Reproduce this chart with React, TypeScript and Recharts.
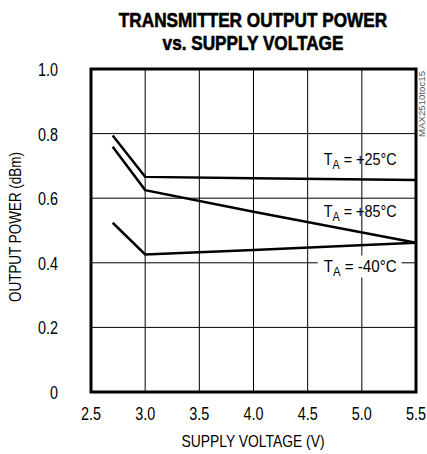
import React from 'react';
import {
  LineChart, Line, XAxis, YAxis, CartesianGrid, ReferenceArea, ReferenceDot,
} from 'recharts';

const voltage = [2.7, 3.0, 4.0, 5.5];
const power25 = [0.794, 0.666, 0.662, 0.656];
const power85 = [0.759, 0.625, 0.558, 0.462];
const powerM40 = [0.524, 0.426, 0.440, 0.462];

const xTicks = [2.5, 3.0, 3.5, 4.0, 4.5, 5.0, 5.5];
const yTicks = [0, 0.2, 0.4, 0.6, 0.8, 1.0];

const curveLabels = [
  { x: 4.98, y: 0.704, temp: '+25°C', bg: false },
  { x: 4.98, y: 0.543, temp: '+85°C', bg: false },
  { x: 4.98, y: 0.373, temp: '-40°C', bg: true },
];

const data = voltage.map((v, i) => ({
  v, t25: power25[i], t85: power85[i], tm40: powerM40[i],
}));

const FONT = '"Liberation Sans", Arial, sans-serif';

const fmtX = (v: number) => v.toFixed(1);
const fmtY = (v: number) => (v === 0 ? '0' : v.toFixed(1));

// narrow look: squeeze the regular font horizontally
const XTick = ({ x, y, payload }: any) => (
  <g transform={`translate(${x},${y + 20}) scale(0.8,1)`}>
    <text textAnchor="middle" fontFamily={FONT} fontSize={18} fill="#000">{fmtX(payload.value)}</text>
  </g>
);

const YTick = ({ x, y, payload }: any) => (
  <g transform={`translate(${x - 25},${y + 7}) scale(0.8,1)`}>
    <text textAnchor="end" fontFamily={FONT} fontSize={18} fill="#000">{fmtY(payload.value)}</text>
  </g>
);

const CurveLabel = ({ cx, cy, temp, bg }: any) => (
  <g>
    {bg && <rect x={cx - 42} y={cy - 16} width={84} height={22} fill="#fff" />}
    <text x={cx - 36} y={cy} fontFamily={FONT} fontSize={16} fill="#000"
      textLength={73} lengthAdjust="spacingAndGlyphs">
      T<tspan fontSize={12} dy={4}>A</tspan><tspan dy={-4}> = {temp}</tspan>
    </text>
  </g>
);

export default function App() {
  return (
    <div style={{ position: 'absolute', left: 0, top: 0, width: 427, height: 454, background: '#fff' }}>
      <svg width={427} height={454} style={{ position: 'absolute', left: 0, top: 0, pointerEvents: 'none', zIndex: 1 }}>
        <g transform="translate(253,27) scale(0.86,1)">
          <text x={0} y={0} textAnchor="middle" fontFamily={FONT} fontWeight="bold" fontSize={20}
            stroke="#000" strokeWidth={0.6}>
            TRANSMITTER OUTPUT POWER
          </text>
        </g>
        <g transform="translate(253,50) scale(0.86,1)">
          <text x={0} y={0} textAnchor="middle" fontFamily={FONT} fontWeight="bold" fontSize={20}
            stroke="#000" strokeWidth={0.6}>
            vs. SUPPLY VOLTAGE
          </text>
        </g>
        <text x={253} y={447} textAnchor="middle" fontFamily={FONT} fontSize={17}
          textLength={143} lengthAdjust="spacingAndGlyphs">
          SUPPLY VOLTAGE (V)
        </text>
        <text x={21} y={227} textAnchor="middle" fontFamily={FONT} fontSize={17}
          textLength={150} lengthAdjust="spacingAndGlyphs"
          transform="rotate(-90 21 227)">
          OUTPUT POWER (dBm)
        </text>
        <text x={425} y={104} textAnchor="middle" fontFamily={FONT} fontSize={9} fill="#555"
          textLength={66} lengthAdjust="spacingAndGlyphs"
          transform="rotate(-90 425 104)">
          MAX2510toc15
        </text>
      </svg>
      <LineChart width={427} height={454} data={data}
        margin={{ top: 69, right: 11, left: 0, bottom: 0 }}>
        <CartesianGrid stroke="#000" strokeWidth={1} />
        <XAxis dataKey="v" type="number" domain={[2.5, 5.5]} ticks={xTicks}
          axisLine={false} tickLine={false} height={62} tick={<XTick />} />
        <YAxis type="number" domain={[0, 1]} ticks={yTicks}
          axisLine={false} tickLine={false} width={91} tick={<YTick />} />
        <Line dataKey="t25" stroke="#000" strokeWidth={2.5} dot={false} type="linear" isAnimationActive={false} />
        <Line dataKey="t85" stroke="#000" strokeWidth={2.5} dot={false} type="linear" isAnimationActive={false} />
        <Line dataKey="tm40" stroke="#000" strokeWidth={2.5} dot={false} type="linear" isAnimationActive={false} />
        {curveLabels.map((l) => (
          <ReferenceDot key={l.temp} x={l.x} y={l.y} r={0}
            shape={(p: any) => <CurveLabel cx={p.cx} cy={p.cy} temp={l.temp} bg={l.bg} />} />
        ))}
        <ReferenceArea x1={2.5} x2={5.5} y1={0} y2={1} fill="none" stroke="#000" strokeWidth={3} />
      </LineChart>
    </div>
  );
}
